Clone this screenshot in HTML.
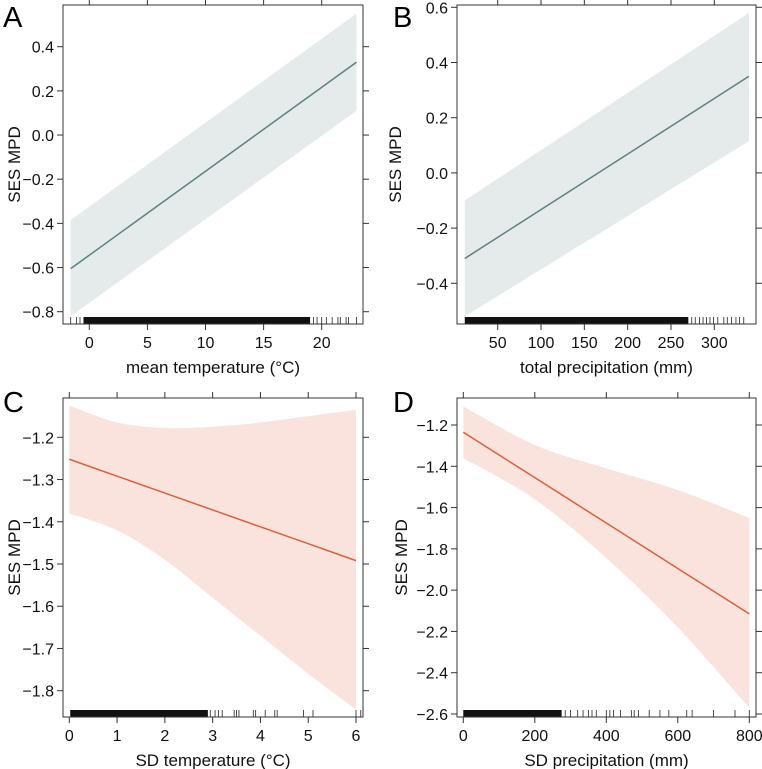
<!DOCTYPE html>
<html><head><meta charset="utf-8"><style>
body{margin:0;background:#fff}
svg{display:block;font-family:"Liberation Sans",Arial,sans-serif}
</style></head><body>
<svg id="c" width="762" height="769"></svg>
<script>
// Panel A data
const aX=[-1.6,23], aFit=[-0.605,0.33], aUp=[-0.385,0.55], aLo=[-0.82,0.11];
const aTicksX=[0,5,10,15,20], aTicksY=[-0.8,-0.6,-0.4,-0.2,0.0,0.2,0.4];
const aRugDense=[-0.5,19], aRug=[-1.6,-1.1,-0.8,19.3,19.6,20,20.4,20.9,21.4,21.6,22.1,22.3,23];
// Panel B data
const bX=[12,340], bFit=[-0.31,0.35], bUp=[-0.10,0.58], bLo=[-0.52,0.115];
const bTicksX=[50,100,150,200,250,300], bTicksY=[-0.4,-0.2,0.0,0.2,0.4,0.6];
const bRugDense=[12,270], bRug=[274,278,283,287,291,295,299,304,311,315,320,325,329,334];
// Panel C data
const cX=[0,1,2,3,4,5,6], cFit=[-1.252,-1.292,-1.332,-1.372,-1.412,-1.452,-1.492];
const cUp=[-1.125,-1.165,-1.178,-1.175,-1.165,-1.15,-1.135];
const cLo=[-1.38,-1.42,-1.49,-1.58,-1.67,-1.76,-1.845];
const cTicksX=[0,1,2,3,4,5,6], cTicksY=[-1.8,-1.7,-1.6,-1.5,-1.4,-1.3,-1.2];
const cRugDense=[0.02,2.9], cRug=[2.95,3.05,3.12,3.2,3.45,3.5,3.55,3.85,3.9,4.1,4.3,4.35,4.9,5.1,6.0,6.1];
// Panel D data
const dX=[0,200,400,600,800], dFit=[-1.235,-1.455,-1.675,-1.895,-2.115];
const dUp=[-1.11,-1.297,-1.41,-1.515,-1.65];
const dLo=[-1.36,-1.56,-1.844,-2.18,-2.57];
const dTicksX=[0,200,400,600,800], dTicksY=[-2.6,-2.4,-2.2,-2.0,-1.8,-1.6,-1.4,-1.2];
const dRugDense=[0,275], dRug=[285,300,320,335,350,360,372,400,410,420,440,470,478,490,520,550,575,625,640,700,760,800];

const NS="http://www.w3.org/2000/svg", svg=document.getElementById('c');
function mk(tag,at,par,txt){const e=document.createElementNS(NS,tag);for(const k in at)e.setAttribute(k,at[k]);if(txt!==undefined)e.textContent=txt;(par||svg).appendChild(e);return e;}
function fmt(v,d){const s=Math.abs(v).toFixed(d);return (v<-1e-9?'\u2212':'')+s;}
// smooth path segments (Catmull-Rom) through pixel points, without leading M
function smooth(pts){
  let s='';
  for(let i=0;i<pts.length-1;i++){
    const p0=pts[Math.max(i-1,0)],p1=pts[i],p2=pts[i+1],p3=pts[Math.min(i+2,pts.length-1)];
    const c1=[p1[0]+(p2[0]-p0[0])/6,p1[1]+(p2[1]-p0[1])/6];
    const c2=[p2[0]-(p3[0]-p1[0])/6,p2[1]-(p3[1]-p1[1])/6];
    s+=`C${c1[0]},${c1[1]} ${c2[0]},${c2[1]} ${p2[0]},${p2[1]}`;
  }
  return s;
}

function panel(p){
  const g=mk('g',{});
  
  
  const sx=v=>p.xc[1]+(v-p.xc[0])/(p.xc[2]-p.xc[0])*(p.xc[3]-p.xc[1]);
  const sy=v=>p.yc[1]+(v-p.yc[0])/(p.yc[2]-p.yc[0])*(p.yc[3]-p.yc[1]);
  const up=p.x.map((x,i)=>[sx(x),sy(p.up[i])]);
  const lo=p.x.map((x,i)=>[sx(x),sy(p.lo[i])]).reverse();
  const d='M'+up[0][0]+','+up[0][1]+smooth(up)+'L'+lo[0][0]+','+lo[0][1]+smooth(lo)+'Z';
  const band=mk('path',{d:d,fill:p.band},g);
  
  
  const ln=mk('polyline',{points:p.x.map((x,i)=>sx(x)+','+sy(p.fit[i])).join(' '),fill:'none',stroke:p.line,'stroke-width':1.5},g);
  
  
  const rg=mk('g',{},g);
  
  
  const ry=p.box[3]-7;
  mk('rect',{x:sx(p.rd[0]),y:ry,width:sx(p.rd[1])-sx(p.rd[0]),height:7,fill:'#111'},rg);
  p.rug.forEach(v=>mk('line',{x1:sx(v),x2:sx(v),y1:ry,y2:p.box[3],stroke:'#222','stroke-width':0.8},rg));
  const bx=mk('rect',{x:p.box[0],y:p.box[1],width:p.box[2]-p.box[0],height:p.box[3]-p.box[1],fill:'none',stroke:'#333','stroke-width':1},g);
  
  
  const xa=mk('g',{},g);
  
  
  p.tx.forEach(v=>{const X=sx(v);
    mk('line',{x1:X,x2:X,y1:p.box[3],y2:p.box[3]+6,stroke:'#333'},xa);
    mk('line',{x1:X,x2:X,y1:p.box[1],y2:p.box[1]-6,stroke:'#333'},xa);
    const t=mk('text',{x:X,y:p.box[3]+24,'text-anchor':'middle','font-size':16,fill:'#111'},xa,String(v));
    
    
  });
  const xt=mk('text',{x:(p.box[0]+p.box[2])/2,y:p.box[3]+49,'text-anchor':'middle','font-size':17,fill:'#111'},g,p.xlab);
  
  
  const ya=mk('g',{},g);
  
  
  p.ty.forEach(v=>{const Y=sy(v);
    mk('line',{x1:p.box[0],x2:p.box[0]-6,y1:Y,y2:Y,stroke:'#333'},ya);
    mk('line',{x1:p.box[2],x2:p.box[2]+6,y1:Y,y2:Y,stroke:'#333'},ya);
    const t=mk('text',{x:p.box[0]-9,y:Y+6,'text-anchor':'end','font-size':16,fill:'#111'},ya,fmt(v,1));
    
    
  });
  const cy=(p.box[1]+p.box[3])/2;
  const yt=mk('text',{x:p.ytx,y:cy,'text-anchor':'middle','font-size':17,fill:'#111',transform:`rotate(-90 ${p.ytx} ${cy})`},g,'SES MPD');
  
  
  const L=mk('text',{x:p.lx,y:p.ly,'font-size':29,fill:'#000'},g,p.id);
  
  
}
const grey='#e5eaeb', gl='#5f8082', ob='#f9e3dc', ol='#d9603a';
panel({id:'A',box:[63,5,363,324],xc:[0,89.3,20,321.7],yc:[0.4,46.7,-0.8,311.7],x:aX,fit:aFit,up:aUp,lo:aLo,tx:aTicksX,ty:aTicksY,rd:aRugDense,rug:aRug,band:grey,line:gl,xlab:'mean temperature (°C)',ytx:20,lx:3,ly:27});
panel({id:'B',box:[457,5,756,324],xc:[50,497.7,300,714.3],yc:[0.6,7.3,-0.4,283.3],x:bX,fit:bFit,up:bUp,lo:bLo,tx:bTicksX,ty:bTicksY,rd:bRugDense,rug:bRug,band:grey,line:gl,xlab:'total precipitation (mm)',ytx:401,lx:393,ly:27});
panel({id:'C',box:[63,398,363,717],xc:[0,69.3,6,356],yc:[-1.2,437.3,-1.8,690.7],x:cX,fit:cFit,up:cUp,lo:cLo,tx:cTicksX,ty:cTicksY,rd:cRugDense,rug:cRug,band:ob,line:ol,xlab:'SD temperature (°C)',ytx:20,lx:3,ly:412});
panel({id:'D',box:[457,398,756,717],xc:[0,463.3,800,749.3],yc:[-1.2,425,-2.6,714],x:dX,fit:dFit,up:dUp,lo:dLo,tx:dTicksX,ty:dTicksY,rd:dRugDense,rug:dRug,band:ob,line:ol,xlab:'SD precipitation (mm)',ytx:407,lx:393,ly:412});
</script>
</body></html>
